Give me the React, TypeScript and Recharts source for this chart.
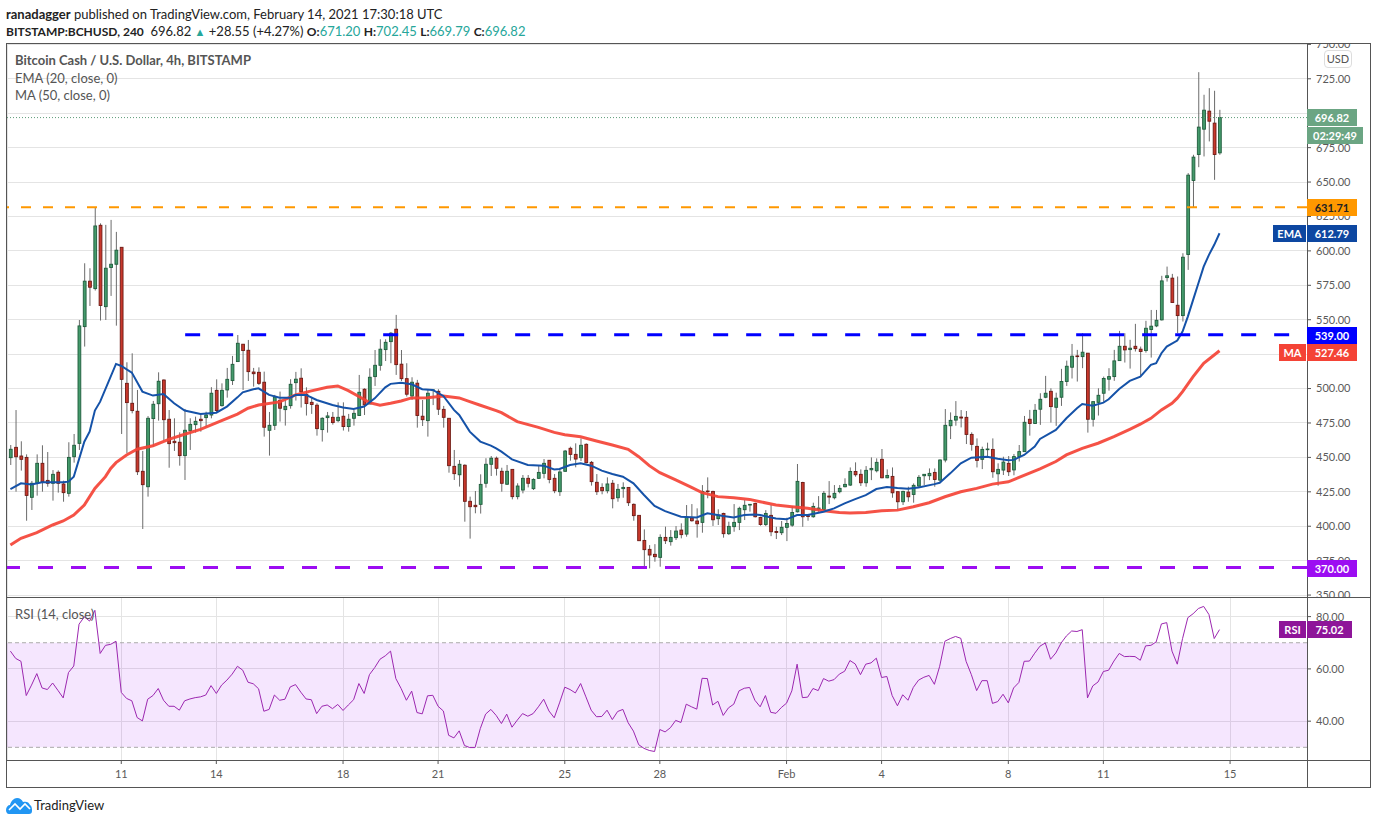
import { Bar, CartesianGrid, ComposedChart, Line, ReferenceArea, ReferenceLine, XAxis, YAxis } from "recharts";

// [open, high, low, close] for every 4h candle
const candles: number[][] = [
  [449.8, 459, 444.5, 455.9], [457.3, 484.4, 425.1, 450.5], [451, 461.7, 440.4, 448.6], [450, 452.2, 404, 422.4],
  [421, 432.9, 411.8, 431.2], [431.2, 452.2, 422.2, 445.7], [445.7, 458.8, 425.1, 432.4], [433.3, 453.9, 428.7, 431.2],
  [431.2, 440.8, 418.6, 437.7], [439.2, 440.6, 424.4, 431.2], [430.7, 433.1, 417.8, 424.4], [423.9, 461, 421.5, 450],
  [450.5, 467, 446.2, 458.8], [460.2, 549.8, 455.4, 545.5], [545, 591, 530.5, 578], [578, 587.4, 560, 573.6],
  [572.6, 631.7, 571.2, 618.1], [618.6, 620, 549.4, 560.3], [559.5, 618.9, 549.8, 587.4], [587.9, 622.5, 567.3, 590.3],
  [590.3, 613.8, 545.7, 600.5], [602.6, 602.6, 467, 506.7], [503.8, 519.1, 453, 489.8], [489.3, 525.6, 482, 484],
  [483.5, 499, 437.2, 439.6], [439.9, 454.7, 398, 430.2], [428.7, 480, 421.5, 478.4], [478.2, 491, 457.8, 488.6],
  [489, 511.8, 476.7, 505.3], [506.2, 506.7, 462.6, 477.4], [477.7, 484.4, 442.5, 460], [461.7, 478.4, 454.7, 460.7],
  [461, 468.2, 444, 451.3], [451.3, 485.2, 433.6, 469.7], [469.4, 478.4, 455.4, 474], [473.8, 479.6, 468, 476.2],
  [477.7, 481.5, 468.7, 476.7], [478.9, 483.2, 471.9, 480.8], [480.8, 501, 478.4, 496.6], [498.7, 506.7, 482.5, 484],
  [487.6, 503.8, 486.9, 498.7], [499, 515, 493.4, 506.7], [505.8, 523.7, 502.6, 517.6], [519.6, 538.9, 519.6, 532.9],
  [532.2, 532.4, 499, 527.6], [527.8, 535.3, 505.5, 512.3], [512, 515, 501.4, 510.8], [511.8, 515.4, 502.6, 503.8],
  [504.6, 512.3, 465.1, 471.9], [469.7, 483, 451.3, 473.3], [473.3, 495.4, 469.9, 493.9], [491.5, 497.8, 476, 485.7],
  [484.7, 491.7, 473.1, 487.1], [487.6, 506.8, 485.4, 503.1], [504.3, 512.1, 491.3, 506.8], [507.5, 514.7, 486.2, 497.6],
  [495.9, 500.9, 480.4, 489.1], [490, 494, 481.6, 488.4], [487.9, 489.3, 465.8, 470.9], [470.2, 479.1, 461.5, 478.4],
  [478.9, 483, 468, 480.1], [479.1, 483, 473.8, 475.3], [476.7, 490, 475.5, 479.1], [479.9, 490, 469.5, 472.4],
  [472.4, 481.6, 468.7, 477.7], [478.4, 484.5, 473.1, 482], [480.4, 509.9, 480.4, 497.3], [499.5, 500.2, 480.8, 488.1],
  [488.8, 514.7, 488.8, 508.2], [508.7, 528, 501.9, 516.9], [516.9, 535.8, 513, 528.6], [528.3, 535.8, 520, 533.6],
  [534.1, 541.1, 518.4, 540.2], [543.1, 553.5, 509.9, 517.4], [517.7, 528, 505.5, 507.2], [507.2, 518.4, 494.2, 495.9],
  [494.6, 508.2, 491.7, 504.6], [503.9, 506.3, 471.6, 480.4], [479.9, 491.7, 472.8, 477.4], [476.7, 499.5, 465.1, 496.6],
  [498.5, 499.5, 488, 499], [498, 499.5, 480.8, 485], [484.9, 487.4, 471.6, 479.1], [478.4, 478.4, 438.9, 444],
  [443.5, 455.4, 433.6, 438.2], [437.4, 448.1, 428.8, 445], [444.3, 445, 403.3, 418.1], [418.1, 421.5, 391, 414.2],
  [415.2, 425.6, 409.4, 414.2], [415.9, 437.7, 409.2, 430.4], [431.2, 449.4, 428, 445], [445, 451, 436.5, 449.4],
  [449.4, 450.6, 436.8, 442.1], [439.9, 442.5, 425.1, 431.2], [430.5, 444.5, 430, 439.9], [441.3, 441.3, 419.5, 421.5],
  [421.5, 431.2, 419.5, 429.2], [426.3, 437.2, 423.9, 434.8], [434.8, 437.2, 428.2, 431.2], [427.3, 434.8, 426.3, 434],
  [434.8, 444.5, 434.3, 439.1], [438.4, 448.8, 434.8, 445.7], [447.9, 448, 431.2, 434], [434.8, 437.9, 424, 425.8],
  [425.1, 442, 422, 439.4], [439.9, 455.4, 439.6, 454.6], [456.6, 457.8, 447.6, 452.2], [452.2, 460.2, 442.8, 448.8],
  [449.8, 463.8, 447.4, 458.8], [459.5, 460.2, 445.7, 446.2], [446.4, 447.4, 429.5, 432.4], [431.9, 437.9, 422.7, 425.1],
  [428.2, 431.2, 423.2, 425.8], [425.8, 435.5, 423.9, 430.7], [431.2, 433.6, 413, 420], [420.7, 430.7, 417.8, 426.8],
  [427.3, 431.9, 420.7, 428.2], [428.2, 428.2, 414.7, 417.1], [415.9, 416.6, 404, 407.7], [407.9, 408, 389.5, 389.5],
  [389.7, 397.7, 370.6, 383], [383.2, 386.3, 369.4, 379.1], [379.6, 387, 374.2, 377.9], [377.4, 394.1, 370.6, 391.9],
  [391.9, 399.7, 387.1, 389.5], [388.8, 397.2, 385.9, 391.9], [391.7, 400.1, 390, 396.5], [397.2, 402.1, 391.2, 393.9],
  [394.3, 415.4, 392.4, 406.4], [406, 416.1, 403.3, 404], [403.8, 413, 391.7, 401.8], [402.8, 429.9, 395.3, 425.3],
  [425.6, 435.5, 420.3, 425.1], [425.3, 425.8, 400.2, 404.7], [405.5, 412.3, 400.9, 408.1], [409.3, 409.8, 391.7, 394.6],
  [394.6, 403.3, 393.6, 399.9], [399.7, 416.1, 396, 402.8], [402.8, 414.2, 397.2, 413], [412, 419, 404.5, 415.2],
  [415.4, 415.9, 410.6, 415.9], [416.6, 417.1, 406.4, 406.9], [406.4, 406.9, 400.4, 401.3], [401.3, 411.7, 400.1, 409.3],
  [407.9, 415.4, 392.8, 396], [396.2, 399.6, 390.7, 395.5], [395.3, 403.8, 393.6, 399.2], [399.2, 406.2, 389.2, 402],
  [400.8, 414.6, 399.6, 410], [410.5, 445.2, 410, 432.6], [431.8, 432.3, 399.6, 406.9], [407.6, 408.1, 404, 407.1],
  [406.9, 417.1, 406.2, 414.4], [412.2, 421.9, 410.5, 413.2], [412.2, 425.6, 411.3, 423.9], [421.9, 432.8, 416.1, 421.2],
  [420.7, 429.9, 419.5, 423.9], [425.1, 429.9, 423.9, 427.5], [428.7, 434.8, 428.2, 430.4], [429.9, 442.7, 429.2, 439.8],
  [439.8, 446.4, 436, 437.4], [437.7, 441.3, 429.2, 431.6], [431.6, 443.7, 428.7, 440.6], [441, 450, 433.5, 442],
  [440.3, 449.3, 439.1, 446.4], [448.6, 456.1, 434.8, 435.2], [435.2, 441.3, 434.8, 436.9], [436.2, 442.7, 420.7, 424.3],
  [425.1, 425.1, 412.2, 417.8], [417.8, 425.8, 415.4, 425.3], [424.8, 428.7, 417.8, 421.4], [423.1, 431.1, 417.1, 429.7],
  [429.2, 437.2, 428.2, 435.5], [436.7, 437.7, 429.9, 437.7], [436.7, 442, 433.5, 438.4], [439.1, 442, 428.7, 434],
  [433.5, 448.6, 432.3, 448.1], [448.1, 485.1, 446.4, 473.3], [473, 482.7, 463.3, 476.9], [477.1, 490.9, 473, 479.8],
  [479.3, 484.4, 471.8, 478.6], [479.1, 483.7, 459.7, 466.7], [466.7, 468.2, 454.9, 459.5], [458, 463.8, 442.7, 447.8],
  [448.6, 457.8, 441.5, 455.8], [455.6, 460.7, 450.5, 456.1], [455.8, 463.8, 435.2, 439.6], [438.1, 445.7, 429.4, 441.3],
  [440.8, 450.5, 437.2, 446.6], [445.7, 451, 436.5, 439.6], [440.9, 452.5, 437, 450.6], [450.6, 459, 447, 454.2],
  [454.2, 480.1, 454.2, 475.5], [477.7, 484.5, 465.8, 474.6], [474.6, 488.8, 474.3, 484.2], [485, 496.6, 473.6, 492.2],
  [493.7, 509.2, 493, 496.6], [498, 500.2, 475.3, 486.9], [486.4, 497, 472.9, 493], [493.7, 514.3, 487.4, 505.1],
  [505.1, 520.3, 501.9, 516.2], [515.5, 532.4, 507.3, 523.5], [523.7, 528.1, 505.1, 523.2], [523.2, 540.2, 514.8, 526.4],
  [525.7, 525.7, 468, 477.7], [477.7, 490.5, 472.4, 490.5], [490, 500.2, 480.4, 495.1], [496.6, 508.7, 490.5, 507.3],
  [506.8, 514.8, 498.5, 508.7], [508.7, 528.1, 505.6, 520.1], [520.3, 541.9, 520.3, 530.7], [530.7, 540.2, 518.9, 528.1],
  [528.3, 535.4, 514.5, 529.3], [530.7, 547, 526.9, 529], [528.6, 530.5, 509.2, 526.9], [527.6, 549.2, 526.1, 543.8],
  [542.9, 557.1, 522.5, 545.3], [545.5, 557.1, 544.6, 549.6], [549.9, 581.9, 549.4, 578.2], [580.6, 588.6, 577.7, 581.9],
  [580.2, 583.3, 562.5, 562.5], [560.5, 581.4, 540.2, 553], [553, 598.3, 548.7, 595.4], [597.4, 656.5, 586.2, 655],
  [651.1, 669.8, 631.7, 668.1], [670, 729.8, 660.8, 689.9], [688.4, 713.4, 668.6, 702.2], [701.5, 718.2, 679.5, 694.2],
  [692.8, 716.3, 651.6, 670], [671.2, 702.45, 669.79, 696.82],
];

// [candle index, value]
const emaPoints: number[][] = [
  [0, 427], [2, 431.2], [4, 430.4], [6, 431.9], [10, 431.9], [11, 432.4], [12, 436], [14, 461.4], [15, 468.7], [16, 484],
  [17, 490.5], [20, 517.9], [21, 516.4], [23, 511.6], [25, 497.8], [27, 494.9], [29, 496], [31, 489.3], [33, 484], [36, 481.5],
  [39, 482.5], [41, 486.9], [43, 493.6], [44, 497.3], [46, 499.5], [47, 500.2], [49, 495.4], [51, 493.4], [53, 493.4], [54, 495.4],
  [56, 495.4], [58, 491.7], [61, 488.1], [63, 486.2], [65, 485.2], [67, 486.9], [69, 492.9], [71, 500.9], [72, 503.4], [74, 504.3],
  [76, 503.1], [78, 499.5], [80, 499], [82, 494.6], [84, 484.5], [85, 480.8], [87, 468.7], [89, 461.5], [91, 458.6], [92, 456.6],
  [93, 454.2], [95, 448.6], [98, 444.5], [101, 444], [103, 441.3], [104, 441.6], [106, 444.5], [108, 445.7], [110, 444], [112, 440.4],
  [114, 437.9], [116, 436], [118, 431.2], [120, 422.7], [122, 414.7], [124, 411], [127, 406.9], [130, 406.4], [132, 409.4], [135, 407.4],
  [137, 406.4], [139, 408.1], [141, 408.6], [142, 408.1], [145, 405.7], [147, 405], [149, 408.1], [151, 408.1], [154, 410.5], [156, 413],
  [158, 416.6], [160, 419.7], [162, 422.6], [164, 427], [166, 428.5], [168, 427.7], [170, 427.2], [172, 428.2], [175, 430.6], [176, 431.6],
  [178, 438.4], [180, 445.7], [182, 449.8], [185, 450.5], [187, 449], [189, 448], [190, 448.2], [192, 451.8], [194, 457.8], [195, 463.4],
  [198, 470], [200, 478.4], [202, 485.7], [203, 488.8], [205, 487.6], [207, 489.8], [208, 492.2], [210, 499.7], [212, 505.6], [214, 508.7],
  [216, 517.2], [217, 518.4], [218, 525.7], [219, 530.5], [221, 534.9], [222, 541.4], [223, 552.3], [224, 564.4], [225, 576.5], [226, 588.6],
  [227, 597.1], [228, 604.4], [229, 612.79],
];

const maPoints: number[][] = [
  [0, 386.3], [2, 391.2], [5, 395.3], [8, 400.9], [10, 403.8], [12, 408.1], [14, 415.4], [16, 427.5], [18, 436], [19, 442],
  [20, 446.2], [22, 451.7], [24, 455.9], [27, 458.5], [30, 463.1], [33, 466.8], [36, 470.4], [40, 476.7], [43, 481.5], [45, 485.7],
  [47, 488.1], [51, 490.3], [54, 495.4], [57, 498.3], [60, 500.9], [62, 501.9], [64, 498.5], [66, 494.2], [68, 489.8], [70, 487.9],
  [72, 489.3], [74, 491], [76, 493.2], [79, 493.4], [82, 494.6], [85, 493.2], [87, 490.5], [89, 487.9], [92, 484], [93, 482.5],
  [96, 476], [100, 471.8], [103, 468.2], [105, 466.5], [108, 465], [111, 461.9], [114, 459], [117, 455.9], [119, 450.5], [121, 444],
  [123, 438.9], [126, 433.6], [129, 428.2], [131, 424.4], [134, 421.5], [137, 420.7], [140, 419.5], [142, 417.8], [145, 415.4], [148, 414.2],
  [151, 413], [154, 411.3], [157, 410], [159, 409.6], [162, 410], [165, 411.3], [168, 411.7], [171, 414.2], [174, 417.1], [177, 421.4],
  [180, 425], [183, 427.5], [186, 430.6], [189, 432.3], [195, 441.6], [198, 447], [200, 451.8], [203, 456.6], [206, 460.3], [209, 465.1],
  [212, 470.4], [214, 474.1], [216, 478.4], [218, 484.5], [220, 489.3], [221, 493], [222, 497.8], [224, 508.7], [226, 518.4], [229, 527.46],
];

const rsiValues: number[] = [
  66.8, 64, 62.9, 49.8, 53.8, 58.2, 52.7, 52.1, 54.6, 51.8, 48.9, 58.6, 61.1, 77.1, 79.9, 78.3, 82.4, 65.9, 69, 69.4,
  70.6, 51, 48.7, 47.8, 41.4, 40.1, 48.4, 49.8, 52.5, 48, 45.7, 45.7, 44.2, 47.8, 48.5, 49, 49.3, 50, 53.6, 50.6,
  53.8, 55.7, 58, 61, 59.5, 54.9, 54.3, 52.4, 43.8, 44.5, 50, 48, 48.4, 53.1, 54, 51.1, 48.5, 48.2, 42.9, 45.7,
  46.2, 44.8, 46.4, 44.1, 46.2, 48.2, 54.4, 50.6, 57.8, 60.5, 63.7, 65, 66.8, 56.3, 52.5, 48, 51.5, 43.3, 42.8, 49.7,
  49.9, 45.7, 43.9, 34.6, 33.6, 36.3, 30.7, 29.9, 29.9, 37.2, 42.7, 44.5, 42.2, 39.1, 42.7, 37.7, 40.4, 42.9, 41.9, 42.9,
  45.5, 48.4, 43.9, 41.3, 47, 53, 52.1, 50.8, 54.4, 49.3, 44.2, 41.7, 41.8, 44.2, 40.6, 43.7, 44.5, 39.4, 36.2, 31,
  29.6, 28.8, 28.4, 36.8, 35.9, 37.5, 40.3, 39.5, 46.5, 45.5, 44.6, 56.4, 56.3, 46.2, 47.6, 42.2, 45.1, 46.5, 51.6, 52.6,
  52.9, 48, 45.5, 49.8, 43.4, 43, 45.2, 46.9, 51.6, 61.8, 49, 49.2, 52.5, 51.7, 56.3, 55.3, 55.9, 58, 59.1, 63.2,
  61.9, 57.8, 61.8, 62.3, 64.1, 56.7, 57.1, 49.8, 45.9, 50.1, 48, 52.9, 55.7, 56.8, 57.5, 54.1, 61, 70.6, 71.6, 72.4,
  71.7, 62.9, 57.8, 51.7, 55.5, 55.5, 46.8, 47.5, 50.3, 47, 52.7, 54.8, 62.9, 63, 66, 68.7, 69.9, 63.7, 66.1, 69.9,
  72.6, 74.5, 74.3, 75, 48.9, 53.5, 55, 59, 59.5, 63, 65.9, 64.7, 64.8, 64.7, 63.3, 68.8, 69, 70.3, 77.2, 77.7,
  66.8, 61.8, 71.6, 79.6, 81.1, 83.1, 83.9, 80.8, 71.6, 75.02,
];

const priceTicks = [350, 375, 400, 425, 450, 475, 500, 525, 550, 575, 600, 625, 650, 675, 700, 725, 750];
const rsiTicks = [40, 60, 80];
const dateTicks = [21, 39, 63, 81, 105, 123, 147, 165, 189, 207, 231];
const dateLabels = ["11", "14", "18", "21", "25", "28", "Feb", "4", "8", "11", "15"];

const emaByIndex = new Map(emaPoints.map((p) => [p[0], p[1]]));
const maByIndex = new Map(maPoints.map((p) => [p[0], p[1]]));

const rows = candles.map((c, i) => ({
  i,
  open: c[0],
  high: c[1],
  low: c[2],
  close: c[3],
  range: [c[2], c[1]],
  ema: emaByIndex.get(i) ?? null,
  ma: maByIndex.get(i) ?? null,
  rsi: rsiValues[i],
}));

const FONT = "Lato, 'Open Sans', sans-serif";
const AXIS_TEXT = "#5a5a5a";
const GRID = "#e4e4e4";
const X_DOMAIN = [-0.644, 245.57];

function Candle(props: any) {
  const { x, y, width, height, payload } = props;
  const cx = x + width / 2;
  const k = height / (payload.high - payload.low || 1);
  const top = y + (payload.high - Math.max(payload.open, payload.close)) * k;
  const bodyH = Math.max(Math.abs(payload.open - payload.close) * k, 0.6);
  const up = payload.close >= payload.open;
  return (
    <g>
      <line x1={cx} x2={cx} y1={y} y2={y + height} stroke="#6b6b6b" strokeWidth={1} />
      <rect
        x={cx - 1.4}
        y={top}
        width={2.8}
        height={bodyH}
        fill={up ? "#449a6b" : "#c8382c"}
        stroke={up ? "#1f5c3c" : "#6e1a14"}
        strokeWidth={0.9}
      />
    </g>
  );
}

function Badge({ top, left = 1307, width = 50, height = 17, bg, color = "#fff", children }: any) {
  return (
    <div
      style={{
        position: "absolute",
        top,
        left,
        width,
        height,
        lineHeight: height + "px",
        background: bg,
        color,
        fontSize: 11,
        fontWeight: 700,
        textAlign: "center",
      }}
    >
      {children}
    </div>
  );
}

function Label({ top, left, size = 13, color = "#555", weight = 400, children }: any) {
  return (
    <div style={{ position: "absolute", top, left, fontSize: size, color, fontWeight: weight, whiteSpace: "nowrap" }}>
      {children}
    </div>
  );
}

const frameLine = { position: "absolute", background: "#555" } as const;
const teal = { color: "#26a69a" };
const key = { fontWeight: 700, fontSize: 12 };

export default function App() {
  return (
    <div
      style={{ position: "absolute", left: 0, top: 0, width: 1376, height: 824, background: "#fff", overflow: "hidden", fontFamily: FONT }}
    >
      <Label top={6} left={6} size={13} color="#222">
        <b>ranadagger</b> published on TradingView.com, February 14, 2021 17:30:18 UTC
      </Label>
      <Label top={23} left={6} size={13} color="#222">
        <span style={{ fontWeight: 700, fontSize: 12 }}>BITSTAMP:BCHUSD, 240</span>&nbsp; 696.82 <span style={{ ...teal, fontSize: 11 }}>▲</span> +28.55 (+4.27%){" "}
        <span style={key}>O:</span><span style={teal}>671.20</span> <span style={key}>H:</span><span style={teal}>702.45</span>{" "}
        <span style={key}>L:</span><span style={teal}>669.79</span> <span style={key}>C:</span><span style={teal}>696.82</span>
      </Label>

      {/* price pane */}
      <div style={{ position: "absolute", left: 7, top: 43, width: 1363, height: 554, overflow: "hidden" }}>
        <ComposedChart width={1363} height={554} data={rows} margin={{ top: 0, right: 0, bottom: 0, left: 0 }}>
          <CartesianGrid stroke={GRID} shapeRendering="crispEdges" />
          <XAxis dataKey="i" type="number" domain={X_DOMAIN} ticks={dateTicks} allowDataOverflow height={0} tick={false} axisLine={false} tickLine={false} />
          <YAxis
            orientation="right"
            width={63}
            domain={[348.6, 751]}
            allowDataOverflow
            ticks={priceTicks}
            interval={0}
            axisLine={false}
            tickSize={4}
            tickMargin={5}
            tickLine={{ stroke: "#555" }}
            tickFormatter={(v: number) => v.toFixed(2)}
            tick={{ fill: AXIS_TEXT, fontSize: 11, fontFamily: FONT }}
          />
          <ReferenceLine y={696.82} stroke="#5d9c78" strokeDasharray="1 2" />
          <Bar dataKey="range" barSize={4} shape={<Candle />} isAnimationActive={false} />
          <Line dataKey="ma" type="linear" connectNulls dot={false} stroke="#f44336" strokeOpacity={0.92} strokeWidth={3} isAnimationActive={false} />
          <Line dataKey="ema" type="linear" connectNulls dot={false} stroke="#1552a8" strokeWidth={2} isAnimationActive={false} />
          <ReferenceLine y={631.71} stroke="#ff9800" strokeWidth={2} strokeDasharray="10 12" />
          <ReferenceLine segment={[{ x: 33.1, y: 539 }, { x: 245.57, y: 539 }]} stroke="#0000ff" strokeWidth={3} strokeDasharray="15 18" />
          <ReferenceLine y={370} stroke="#9c0df2" strokeWidth={3} strokeDasharray="15 18" />
        </ComposedChart>
      </div>

      {/* RSI pane */}
      <div style={{ position: "absolute", left: 7, top: 597, width: 1363, height: 190, overflow: "hidden" }}>
        <ComposedChart width={1363} height={190} data={rows} margin={{ top: 0, right: 0, bottom: 0, left: 0 }}>
          <CartesianGrid stroke={GRID} shapeRendering="crispEdges" />
          <ReferenceArea y1={30} y2={70} fill="#9c0df2" fillOpacity={0.1} stroke="none" />
          <XAxis
            dataKey="i"
            type="number"
            domain={X_DOMAIN}
            ticks={dateTicks}
            interval={0}
            allowDataOverflow
            height={27}
            axisLine={false}
            tickSize={4}
            tickMargin={6}
            tickLine={{ stroke: "#555" }}
            tickFormatter={(v: number) => dateLabels[dateTicks.indexOf(v)]}
            tick={{ fill: AXIS_TEXT, fontSize: 11, fontFamily: FONT }}
          />
          <YAxis
            orientation="right"
            width={63}
            domain={[25.15, 87.5]}
            allowDataOverflow
            ticks={rsiTicks}
            interval={0}
            axisLine={false}
            tickSize={4}
            tickMargin={5}
            tickLine={{ stroke: "#555" }}
            tickFormatter={(v: number) => v.toFixed(2)}
            tick={{ fill: AXIS_TEXT, fontSize: 11, fontFamily: FONT }}
          />
          <ReferenceLine y={70} stroke="#aaa" strokeDasharray="4 3" />
          <ReferenceLine y={30} stroke="#aaa" strokeDasharray="4 3" />
          <Line dataKey="rsi" type="linear" dot={false} stroke="#9c27b0" strokeWidth={1} isAnimationActive={false} />
        </ComposedChart>
      </div>

      {/* frame */}
      <div style={{ ...frameLine, left: 6, top: 43, width: 1365, height: 1 }} />
      <div style={{ ...frameLine, left: 6, top: 597, width: 1365, height: 1 }} />
      <div style={{ ...frameLine, left: 6, top: 760, width: 1365, height: 1 }} />
      <div style={{ ...frameLine, left: 6, top: 787, width: 1365, height: 1 }} />
      <div style={{ ...frameLine, left: 6, top: 43, width: 1, height: 745 }} />
      <div style={{ ...frameLine, left: 1307, top: 43, width: 1, height: 745 }} />
      <div style={{ ...frameLine, left: 1370, top: 43, width: 1, height: 745 }} />

      <Label top={52} left={15} weight={700}>Bitcoin Cash / U.S. Dollar, 4h, BITSTAMP</Label>
      <Label top={70} left={15}>EMA (20, close, 0)</Label>
      <Label top={87} left={15}>MA (50, close, 0)</Label>
      <Label top={606} left={15}>RSI (14, close)</Label>

      <div
        style={{
          position: "absolute", left: 1324, top: 50, width: 26, height: 16, lineHeight: "16px", border: "1px solid #ddd",
          borderRadius: 4, background: "#fff", color: "#555", fontSize: 11, textAlign: "center",
        }}
      >
        USD
      </div>

      <Badge top={109} bg="#6ba583">696.82</Badge>
      <Badge top={127} width={56} bg="#6ba583">02:29:49</Badge>
      <Badge top={199} bg="#ff9800" color="#222">631.71</Badge>
      <Badge top={225} left={1273} width={33} bg="#0d47a1">EMA</Badge>
      <Badge top={225} bg="#0d47a1">612.79</Badge>
      <Badge top={327} bg="#0000ff">539.00</Badge>
      <Badge top={344} left={1279} width={27} bg="#f44336">MA</Badge>
      <Badge top={344} bg="#f44336">527.46</Badge>
      <Badge top={560} bg="#9c0df2">370.00</Badge>
      <Badge top={621} left={1279} width={27} bg="#8e1599">RSI</Badge>
      <Badge top={621} width={45} bg="#8e1599">75.02</Badge>

      {/* logo */}
      <svg style={{ position: "absolute", left: 6, top: 797 }} width={26} height={17} viewBox="0 0 26 17">
        <path d="M0 13 C0 10 2 8 4 8 C5 4 8 1 11 1 C14 1 16 3 17 5 C20 4 23 5 24 8 C26 9 26 12 26 14 C26 16 25 17 23 17 L3 17 C1 17 0 15 0 13 Z" fill="#2196f3" />
        <path d="M3 13 L9 7 L14 12 L19 7 L24 12" fill="none" stroke="#fff" strokeWidth={1.6} />
      </svg>
      <Label top={797} left={34} size={13} color="#222">TradingView</Label>
    </div>
  );
}
